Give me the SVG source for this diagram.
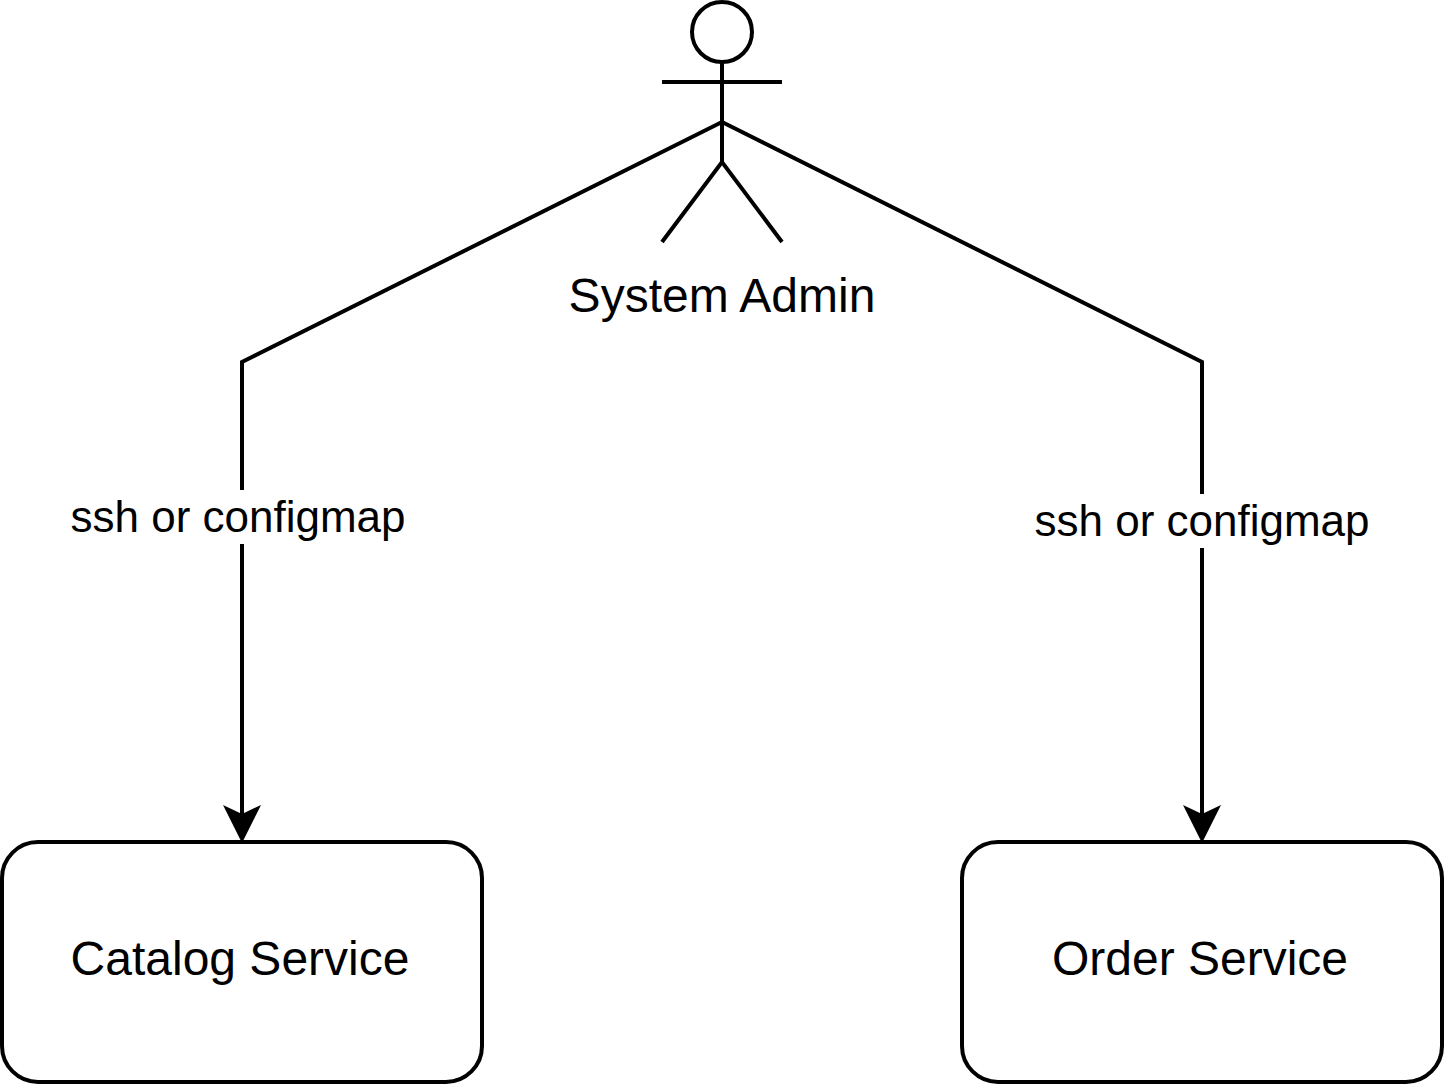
<svg xmlns="http://www.w3.org/2000/svg" width="1444" height="1084" viewBox="0 0 1444 1084">
<style>
.l{fill:none;stroke:#000;stroke-width:4;stroke-miterlimit:10}
.t{font-family:"Liberation Sans",Arial,sans-serif;font-size:48px;fill:#000;text-anchor:middle}
.e{font-family:"Liberation Sans",Arial,sans-serif;font-size:44px;fill:#000;text-anchor:middle}
.b{fill:#fff;stroke:#000;stroke-width:4}
</style>
<defs><marker id="a" markerUnits="userSpaceOnUse" markerWidth="44" markerHeight="44" refX="16" refY="22" orient="auto"><path d="M1 3L39 22L1 41L10 22Z" fill="#000"/></marker></defs>
<rect width="1444" height="1084" fill="#fff"/>
<g id="connectors">
<path class="l" d="M722 122L242 362V820" marker-end="url(#a)"/>
<path class="l" d="M722 122L1202 362V820" marker-end="url(#a)"/>
<rect x="68" y="490" width="340" height="54" fill="#fff"/>
<text class="e" x="238" y="532">ssh or configmap</text>
<rect x="1032" y="494" width="340" height="54" fill="#fff"/>
<text class="e" x="1202" y="536">ssh or configmap</text>
</g>
<g id="admin">
<circle class="l" cx="722" cy="32" r="30"/>
<path class="l" d="M722 62V162M662 82H782M662 242L722 162L782 242"/>
<text class="t" x="722" y="312">System Admin</text>
</g>
<g id="catalog"><rect class="b" x="2" y="842" width="480" height="240" rx="36"/><text class="t" x="240" y="975">Catalog Service</text></g>
<g id="order"><rect class="b" x="962" y="842" width="480" height="240" rx="36"/><text class="t" x="1200" y="975">Order Service</text></g>
</svg>
